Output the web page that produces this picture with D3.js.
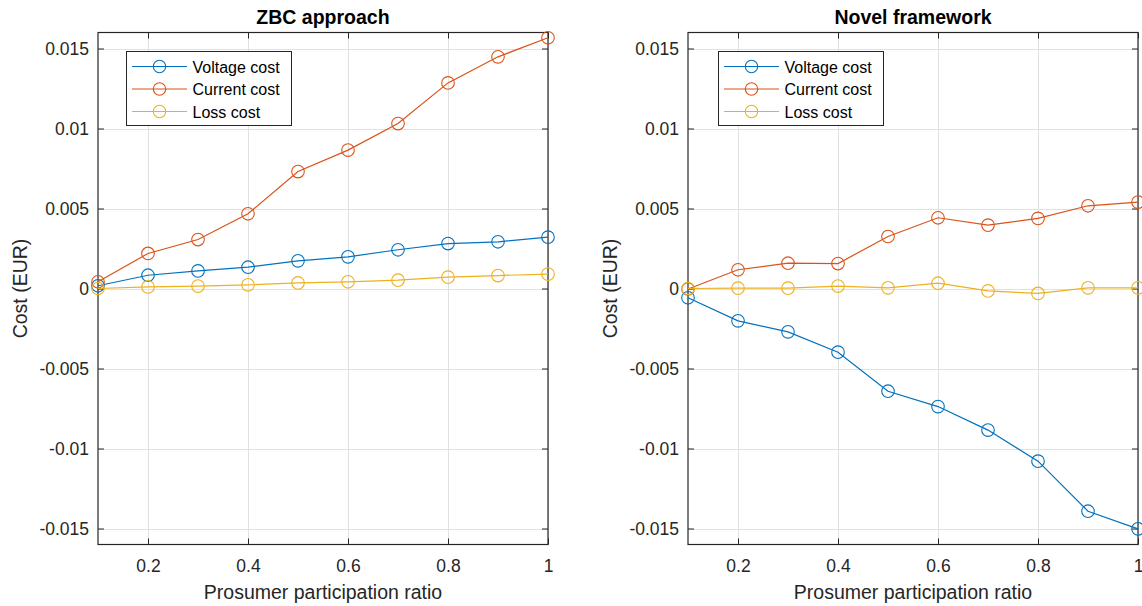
<!DOCTYPE html>
<html><head><meta charset="utf-8">
<script src="https://cdn.jsdelivr.net/npm/d3@7"></script>
<style>body{margin:0;background:#fff}svg{display:block}text{font-family:"Liberation Sans",Arial,sans-serif}</style>
</head><body><svg id="c" width="1142" height="606"></svg>
<script>
const ratios = [0.1,0.2,0.3,0.4,0.5,0.6,0.7,0.8,0.9,1.0];
const seriesNames = ["Voltage cost","Current cost","Loss cost"];
const colors = ["#0072BD","#D95319","#EDB120"];
const xTicks = [0.2,0.4,0.6,0.8,1];
const yTicks = [-0.015,-0.01,-0.005,0,0.005,0.01,0.015];
const yTickLabels = ["-0.015","-0.01","-0.005","0","0.005","0.01","0.015"];
const xTickLabels = ["0.2","0.4","0.6","0.8","1"];
const titles = ["ZBC approach","Novel framework"];

const zbcVoltage = [0.00017,0.00083,0.0011,0.00133,0.00173,0.00198,0.00242,0.00281,0.00292,0.00321];
const zbcCurrent = [0.00042,0.00219,0.00306,0.00467,0.00731,0.00865,0.01031,0.01285,0.01448,0.01567];
const zbcLoss    = [0.0,0.0001,0.00015,0.00023,0.00035,0.00042,0.00052,0.00071,0.00081,0.0009];

const novVoltage = [-0.00058,-0.00202,-0.00271,-0.00398,-0.00642,-0.00738,-0.00885,-0.01079,-0.01392,-0.01502];
const novCurrent = [-0.00003,0.00117,0.00158,0.00156,0.00325,0.00442,0.00396,0.00438,0.00517,0.0054];
const novLoss    = [0.0,0.00002,0.00002,0.00015,0.00004,0.00033,-0.00015,-0.00031,0.00004,0.00004];

const panels = [
  {title:titles[0], data:[zbcVoltage,zbcCurrent,zbcLoss], x0:98, x1:548, legX:126},
  {title:titles[1], data:[novVoltage,novCurrent,novLoss], x0:688, x1:1138, legX:718}
];
const yTop = 32.5, yBot = 544.5;
const svg = d3.select("#c");
const axisCol = "#262626";

panels.forEach(p=>{
  const x = d3.scaleLinear().domain([0.1,1]).range([p.x0,p.x1]);
  const y = d3.scaleLinear().domain([-0.016,0.016]).range([yBot,yTop]);
  const g = svg.append("g");
  // grid
  g.selectAll(".gx").data(xTicks).join("line")
    .attr("x1",d=>Math.round(x(d))+0.5).attr("x2",d=>Math.round(x(d))+0.5)
    .attr("y1",yTop).attr("y2",yBot).attr("stroke","#e1e1e1").attr("stroke-width",1);
  g.selectAll(".gy").data(yTicks).join("line")
    .attr("y1",d=>Math.round(y(d))+0.5).attr("y2",d=>Math.round(y(d))+0.5)
    .attr("x1",p.x0).attr("x2",p.x1).attr("stroke","#e1e1e1").attr("stroke-width",1);
  // axes via d3
  const xAxis = d3.axisBottom(x).tickValues(xTicks).tickFormat((d,i)=>xTickLabels[i]).tickSizeInner(-6).tickSizeOuter(0).tickPadding(15);
  const yAxis = d3.axisLeft(y).tickValues(yTicks).tickFormat((d,i)=>yTickLabels[i]).tickSizeInner(-6).tickSizeOuter(0).tickPadding(9);
  const gx = g.append("g").attr("transform",`translate(0,${yBot})`).call(xAxis);
  const gy = g.append("g").attr("transform",`translate(${p.x0},0)`).call(yAxis);
  const gxt = g.append("g").attr("transform",`translate(0,${yTop})`).call(d3.axisTop(x).tickValues(xTicks).tickFormat("").tickSizeInner(-6).tickSizeOuter(0));
  const gyr = g.append("g").attr("transform",`translate(${p.x1},0)`).call(d3.axisRight(y).tickValues(yTicks).tickFormat("").tickSizeInner(-6).tickSizeOuter(0));
  [gx,gy,gxt,gyr].forEach(a=>{
    a.select(".domain").remove();
    a.selectAll("line").attr("stroke",axisCol);
    a.selectAll("text").attr("fill","#262626").style("font-size","17.5px").style("font-family","'Liberation Sans',Arial,sans-serif");
  });
  // box
  g.append("rect").attr("x",p.x0).attr("y",yTop).attr("width",p.x1-p.x0).attr("height",yBot-yTop)
    .attr("fill","none").attr("stroke",axisCol).attr("stroke-width",1.2);
  // lines
  p.data.forEach((vals,si)=>{
    const pts = ratios.map((r,i)=>[r,vals[i]]);
    g.append("path").datum(pts).attr("fill","none").attr("stroke",colors[si]).attr("stroke-width",1.2)
      .attr("d",d3.line().x(d=>x(d[0])).y(d=>y(d[1])));
    g.selectAll(null).data(pts).join("circle").attr("cx",d=>x(d[0])).attr("cy",d=>y(d[1])).attr("r",6.3)
      .attr("fill","none").attr("stroke",colors[si]).attr("stroke-width",1.1);
  });
  // title
  g.append("text").attr("x",(p.x0+p.x1)/2).attr("y",24).attr("text-anchor","middle")
    .style("font-weight","bold").style("font-size","19.5px").attr("fill","#000").text(p.title);
  // x label
  g.append("text").attr("x",(p.x0+p.x1)/2).attr("y",599).attr("text-anchor","middle")
    .style("font-size","19.5px").attr("fill","#262626").text("Prosumer participation ratio");
  // y label
  g.append("text").attr("transform",`translate(${p.x0-71},${(yTop+yBot)/2}) rotate(-90)`).attr("text-anchor","middle")
    .style("font-size","19.5px").attr("fill","#262626").text("Cost (EUR)");
  // legend
  const lg = g.append("g").attr("transform",`translate(${p.legX},51)`);
  lg.append("rect").attr("x",0.5).attr("y",0.5).attr("width",165).attr("height",74).attr("fill","#fff").attr("stroke","#262626").attr("stroke-width",1);
  seriesNames.forEach((n,i)=>{
    const yy = 15.5+i*22.5;
    lg.append("line").attr("x1",6).attr("x2",61).attr("y1",yy).attr("y2",yy).attr("stroke",colors[i]).attr("stroke-width",1.2);
    lg.append("circle").attr("cx",33.5).attr("cy",yy).attr("r",6.2).attr("fill","none").attr("stroke",colors[i]).attr("stroke-width",1.1);
    lg.append("text").attr("x",66.5).attr("y",yy+6).style("font-size","16px").attr("fill","#000").text(n);
  });
});
</script></body></html>
